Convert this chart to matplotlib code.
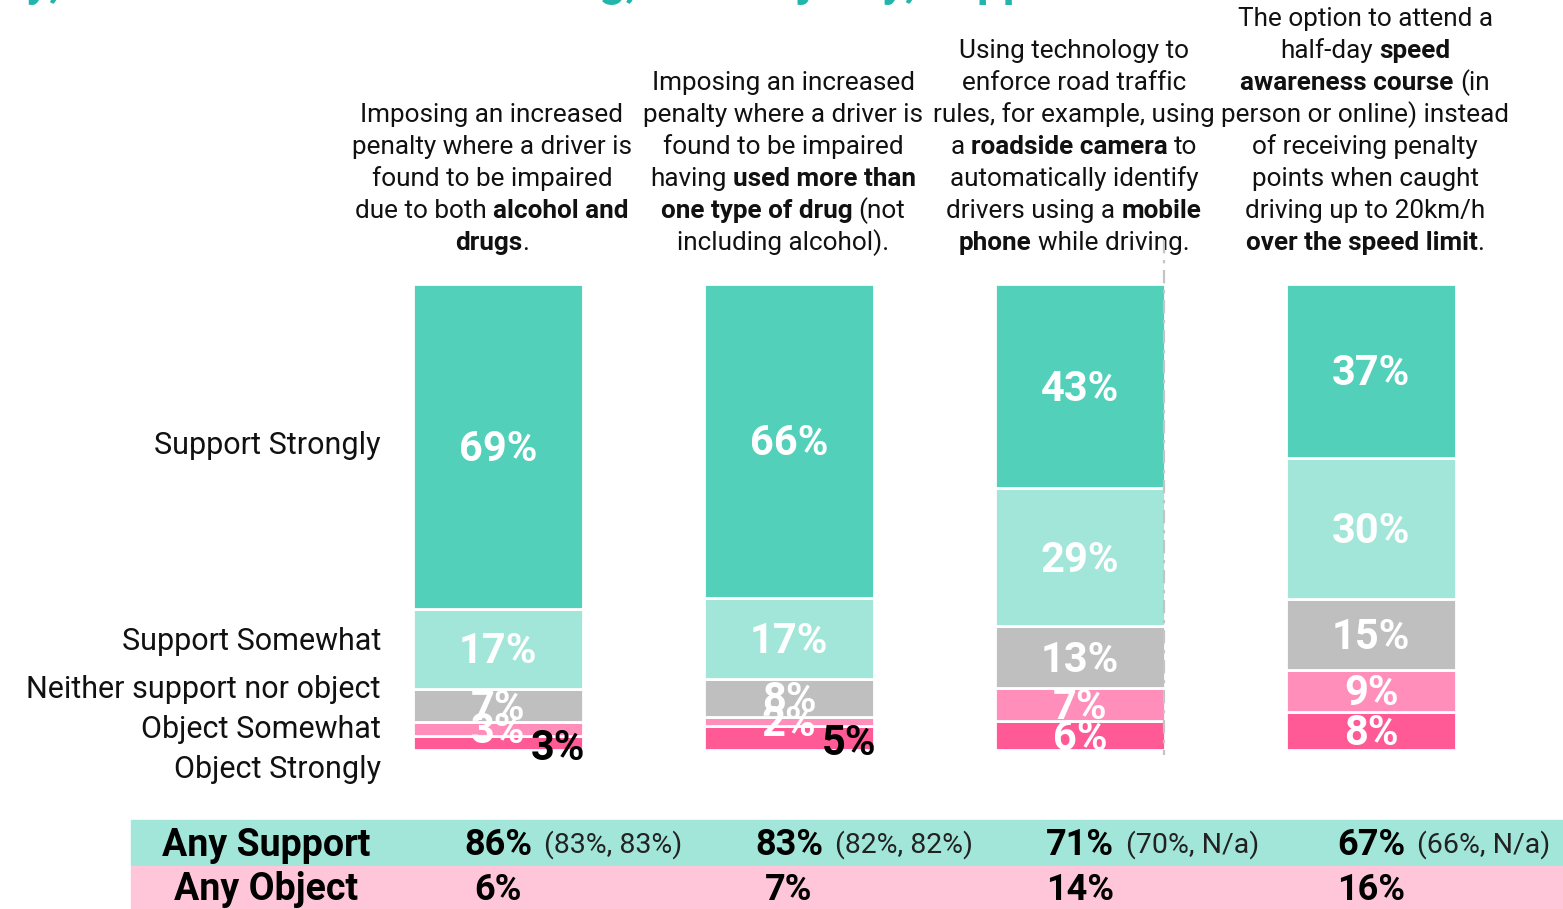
import matplotlib.pyplot as plt
from matplotlib.patches import Rectangle
from matplotlib.lines import Line2D
from matplotlib.transforms import blended_transform_factory

plt.rcParams['font.family'] = ['Roboto', 'DejaVu Sans']

# ----------------------------
# data
# ----------------------------
levels = ["Support Strongly", "Support Somewhat", "Neither support nor object",
          "Object Somewhat", "Object Strongly"]
support_strongly = [69, 66, 43, 37]
support_somewhat = [17, 17, 29, 30]
neither = [7, 8, 13, 15]
object_somewhat = [3, 2, 7, 9]
object_strongly = [3, 5, 6, 8]

any_support = [86, 83, 71, 67]
prior_waves = ["(83%, 83%)", "(82%, 82%)", "(70%, N/a)", "(66%, N/a)"]
any_object = [6, 7, 14, 16]

# ** marks bold parts
headers = [
    ["Imposing an increased", "penalty where a driver is", "found to be impaired",
     "due to both **alcohol and**", "**drugs**."],
    ["Imposing an increased", "penalty where a driver is", "found to be impaired",
     "having **used more than**", "**one type of drug** (not", "including alcohol)."],
    ["Using technology to", "enforce road traffic", "rules, for example, using",
     "a **roadside camera** to", "automatically identify",
     "drivers using a **mobile**", "**phone** while driving."],
    ["The option to attend a", "half-day **speed**", "**awareness course** (in",
     "person or online) instead", "of receiving penalty", "points when caught",
     "driving up to 20km/h", "**over the speed limit**."],
]
title = "Generally, there is both a clear strong, and majority, support for all of the measures tested"

colors = ["#52D0BA", "#A2E6D9", "#BFBFBF", "#FF8FBA", "#FF5A96"]
TEAL_TITLE = "#22B5AD"

W, H = 1563, 909
fig = plt.figure(figsize=(W / 100, H / 100), dpi=100)
renderer = fig.canvas.get_renderer()


def fx(px):
    return px / W


def fy(py):
    return 1 - py / H


# ----------------------------
# stacked bars
# ----------------------------
ax = fig.add_axes([fx(352.5), fy(750), fx(1516.5) - fx(352.5), fy(284) - fy(750)])
ax.set_xlim(-0.5, 3.5)
ax.set_ylim(0, 1)
ax.axis("off")

series = [support_strongly, support_somewhat, neither, object_somewhat, object_strongly]
n = len(support_strongly)
totals = [sum(s[i] for s in series) for i in range(n)]
outside_last = [True, True, False, False]  # black label beside bar

bottoms = [0.0] * n
for k in range(len(series) - 1, -1, -1):
    vals = series[k]
    shares = [v / t for v, t in zip(vals, totals)]
    ax.bar(range(n), shares, bottom=bottoms, width=0.584, color=colors[k],
           edgecolor="white", linewidth=2)
    for i in range(n):
        mid = bottoms[i] + shares[i] / 2
        if k == len(series) - 1 and outside_last[i]:
            ax.text(i + 0.205, mid - 0.012, f"{vals[i]}%", color="black", fontsize=30,
                    fontweight="bold", ha="center", va="center", clip_on=False)
        else:
            ax.text(i, mid - 0.006, f"{vals[i]}%", color="white", fontsize=30,
                    fontweight="bold", ha="center", va="center", clip_on=True)
    bottoms = [b + s for b, s in zip(bottoms, shares)]

bar_px = [ax.transData.transform((i, 0))[0] for i in range(n)]

# dashed guide line at right edge of third bar
fig.add_artist(Line2D([fx(1164), fx(1164)], [fy(240), fy(755)], color="#C4C4C4",
                      lw=1.6, linestyle=(0, (6, 3, 1.5, 3)), zorder=10))

# ----------------------------
# left labels
# ----------------------------
label_y = [445, 641, 689, 729, 769]
for lab, y in zip(levels, label_y):
    fig.text(fx(381), fy(y), lab, fontsize=22, ha="right", va="center", color="#111111")


# ----------------------------
# header texts with bold runs
# ----------------------------
def rich_line(xc, y, line, size):
    parts = line.split("**")
    segs = [(p, i % 2 == 1) for i, p in enumerate(parts) if p]
    sp = size * 100 / 72 * 0.25
    items = []
    for txt, bold in segs:
        t = fig.text(0, fy(y), txt.strip(), fontsize=size, color="#111111",
                     fontweight="bold" if bold else "normal", ha="left", va="center")
        w = t.get_window_extent(renderer).width
        items.append((t, w, txt.startswith(" "), txt.endswith(" ")))
    total = 0
    gaps = []
    for j, (t, w, lead, trail) in enumerate(items):
        g = sp if j > 0 and (lead or items[j - 1][3]) else 0
        gaps.append(g)
        total += g + w
    x = xc - total / 2
    for (t, w, lead, trail), g in zip(items, gaps):
        x += g
        t.set_x(fx(x))
        x += w


for i, lines in enumerate(headers):
    xc = bar_px[i] - 6
    for j, line in enumerate(lines):
        y = 243 - 32 * (len(lines) - 1 - j)
        rich_line(xc, y, line, 18.8)

# ----------------------------
# clipped title at the very top
# ----------------------------
probe = fig.text(0, 0, "Generall", fontsize=33, fontweight="bold")
w0 = probe.get_window_extent(renderer).width
probe.remove()
fig.text(fx(26 - w0), fy(-4), title, fontsize=33, fontweight="bold",
         color=TEAL_TITLE, ha="left", va="baseline")

# ----------------------------
# summary table
# ----------------------------
fig.add_artist(Rectangle((fx(131), fy(865)), 1 - fx(131), fy(820) - fy(865),
                         transform=fig.transFigure, color="#A2E6D9", zorder=0))
fig.add_artist(Rectangle((fx(131), 0), 1 - fx(131), fy(866),
                         transform=fig.transFigure, color="#FFC6DA", zorder=0))

tr = blended_transform_factory(ax.transData, fig.transFigure)
fig.text(fx(266), fy(845), "Any Support", fontsize=27, fontweight="bold",
         ha="center", va="center")
fig.text(fx(266), fy(890), "Any Object", fontsize=27, fontweight="bold",
         ha="center", va="center")
for i in range(n):
    ax.text(i, fy(845), f"{any_support[i]}%", transform=tr, fontsize=26,
            fontweight="bold", ha="center", va="center", clip_on=False)
    fig.text(fx(bar_px[i] + 46), fy(845), prior_waves[i], fontsize=20.5,
             ha="left", va="center", color="#222222")
    ax.text(i, fy(890), f"{any_object[i]}%", transform=tr, fontsize=26,
            fontweight="bold", ha="center", va="center", clip_on=False)

fig.savefig("out.png", dpi=100)
